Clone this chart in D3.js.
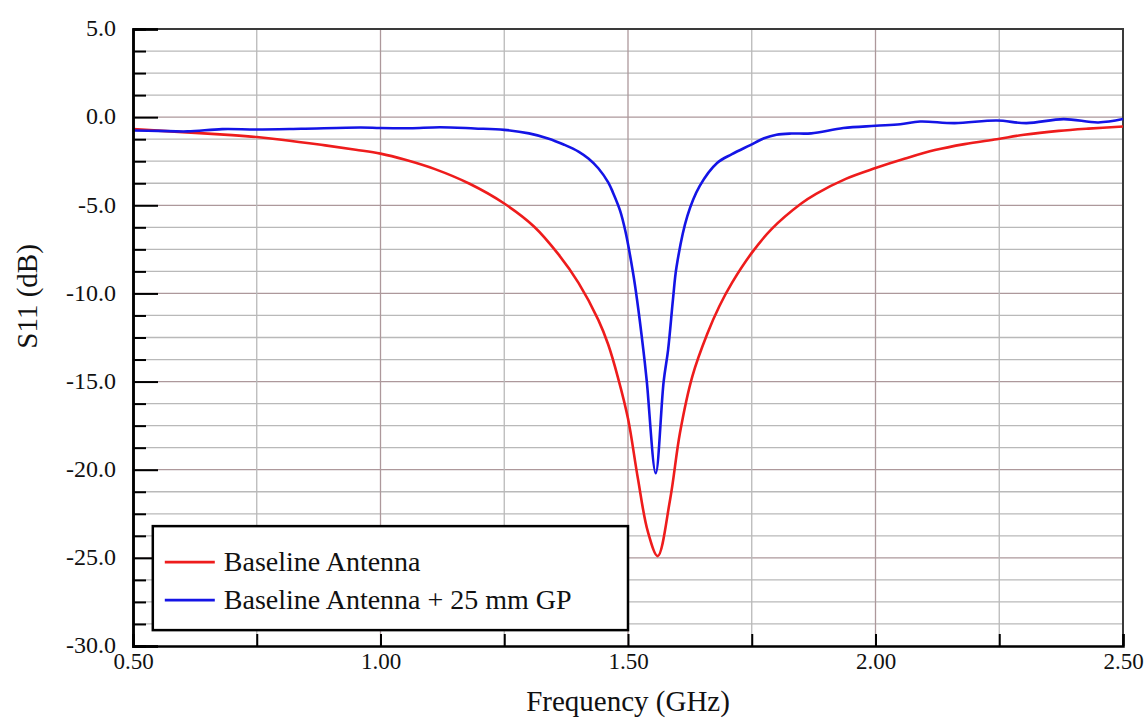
<!DOCTYPE html>
<html>
<head>
<meta charset="utf-8">
<script src="https://cdn.jsdelivr.net/npm/d3@7"></script>
<style>
  html, body { margin: 0; padding: 0; background: #fff; overflow: hidden; }
  svg { display: block; }
  svg text { font-family: "Liberation Serif", "Times New Roman", serif; fill: #111; }
</style>
</head>
<body>
<div id="container"></div>
<script>
// frequency (GHz) and S11 (dB)
const baselineFreq = [0.50, 0.60, 0.70, 0.75, 0.80, 0.88, 0.95, 1.00, 1.05, 1.11, 1.18, 1.25, 1.31, 1.36, 1.40, 1.44, 1.46, 1.48, 1.50, 1.52, 1.54, 1.56, 1.585, 1.605, 1.63, 1.66, 1.685, 1.71, 1.75, 1.79, 1.85, 1.88, 1.94, 2.00, 2.06, 2.12, 2.18, 2.245, 2.30, 2.37, 2.43, 2.50]
const baselineS11 = [-0.68, -0.85, -1.02, -1.13, -1.28, -1.57, -1.85, -2.07, -2.42, -2.95, -3.78, -4.9, -6.2, -7.8, -9.4, -11.5, -12.9, -14.8, -17.1, -20.5, -23.5, -24.9, -21.7, -17.9, -14.7, -12.3, -10.7, -9.4, -7.7, -6.35, -4.9, -4.35, -3.5, -2.89, -2.35, -1.87, -1.53, -1.25, -1.0, -0.78, -0.65, -0.53]

const gpFreq = [0.50, 0.55, 0.61, 0.68, 0.75, 0.84, 0.96, 1.00, 1.06, 1.12, 1.19, 1.25, 1.30, 1.34, 1.37, 1.40, 1.42, 1.44, 1.46, 1.47, 1.484, 1.495, 1.51, 1.518, 1.531, 1.538, 1.556, 1.572, 1.581, 1.591, 1.598, 1.62, 1.645, 1.68, 1.71, 1.746, 1.775, 1.80, 1.83, 1.87, 1.935, 2.00, 2.05, 2.09, 2.16, 2.245, 2.305, 2.38, 2.45, 2.50]
const gpS11 = [-0.76, -0.78, -0.81, -0.68, -0.70, -0.66, -0.59, -0.62, -0.63, -0.57, -0.64, -0.72, -0.92, -1.22, -1.55, -1.95, -2.35, -2.9, -3.7, -4.3, -5.3, -6.5, -8.8, -10.3, -13.2, -15.0, -20.2, -15.0, -13.2, -10.3, -8.5, -5.6, -3.9, -2.6, -2.1, -1.6, -1.2, -1.0, -0.93, -0.92, -0.62, -0.49, -0.40, -0.25, -0.34, -0.19, -0.34, -0.11, -0.30, -0.11]

const seriesNames = ["Baseline Antenna", "Baseline Antenna + 25 mm GP"]
const seriesColors = ["#ee1c1c", "#1414e6"]

const xMajorTicks = [0.5, 1.0, 1.5, 2.0, 2.5]
const xTickLabels = ["0.50", "1.00", "1.50", "2.00", "2.50"]
const xMinorTicks = [0.75, 1.25, 1.75, 2.25]
const yMajorTicks = [5, 0, -5, -10, -15, -20, -25, -30]
const yTickLabels = ["5.0", "0.0", "-5.0", "-10.0", "-15.0", "-20.0", "-25.0", "-30.0"]
const yMinorTicks = d3.range(5, -30, -1.25).filter(v => v % 5 !== 0)

const container = d3.select("#container")
const width = 1148, height = 721
const margin = {top: 29, right: 25, bottom: 75, left: 133}
const innerWidth = width - margin.left - margin.right
const innerHeight = height - margin.top - margin.bottom

const svg = container.append("svg")
                     .attr("width", width)
                     .attr("height", height)

const chart = svg.append("g")
                 .attr("transform", `translate(${margin.left}, ${margin.top})`)

// scales
const xScale = d3.scaleLinear().domain([0.5, 2.5]).range([0, innerWidth])
const yScale = d3.scaleLinear().domain([-30, 5]).range([innerHeight, 0])

// grid lines
chart.selectAll(".hgrid-minor")
     .data(yMinorTicks)
     .join("line")
     .attr("x1", 0).attr("x2", innerWidth)
     .attr("y1", d => yScale(d)).attr("y2", d => yScale(d))
     .attr("stroke", "#b9b9b9").attr("stroke-width", 1.3)
chart.selectAll(".hgrid-major")
     .data(yMajorTicks.slice(1, -1))
     .join("line")
     .attr("x1", 0).attr("x2", innerWidth)
     .attr("y1", d => yScale(d)).attr("y2", d => yScale(d))
     .attr("stroke", "#ad989b").attr("stroke-width", 1.3)
chart.selectAll(".vgrid-minor")
     .data(xMinorTicks)
     .join("line")
     .attr("x1", d => xScale(d)).attr("x2", d => xScale(d))
     .attr("y1", 0).attr("y2", innerHeight)
     .attr("stroke", "#b9b9b9").attr("stroke-width", 1.3)
chart.selectAll(".vgrid-major")
     .data(xMajorTicks.slice(1, -1))
     .join("line")
     .attr("x1", d => xScale(d)).attr("x2", d => xScale(d))
     .attr("y1", 0).attr("y2", innerHeight)
     .attr("stroke", "#ad989b").attr("stroke-width", 1.3)

// frame (top / right)
chart.append("path")
     .attr("d", `M0,0H${innerWidth}V${innerHeight}`)
     .attr("fill", "none").attr("stroke", "#3a3a3a").attr("stroke-width", 2)

// curves
const line = d3.line()
               .x(d => xScale(d[0]))
               .y(d => yScale(d[1]))
               .curve(d3.curveCatmullRom.alpha(0.5))
const series = [
    d3.zip(baselineFreq, baselineS11),
    d3.zip(gpFreq, gpS11)
]
chart.selectAll(".curve")
     .data(series)
     .join("path")
     .attr("class", "curve")
     .attr("d", line)
     .attr("fill", "none")
     .attr("stroke", (d, i) => seriesColors[i])
     .attr("stroke-width", 2.6)
     .attr("stroke-linejoin", "round")

// axes
const yAxisMajor = d3.axisLeft(yScale)
                     .tickValues(yMajorTicks)
                     .tickSize(-25)
                     .tickPadding(17)
                     .tickFormat((d, i) => yTickLabels[i])
const yAxisMinor = d3.axisLeft(yScale)
                     .tickValues(yMinorTicks)
                     .tickSize(-13)
                     .tickFormat("")
const xAxis = d3.axisBottom(xScale)
                .tickValues(xMajorTicks.concat(xMinorTicks))
                .tickSize(-12)
                .tickPadding(7)
                .tickFormat(d => {
                    const i = xMajorTicks.indexOf(d)
                    return i < 0 ? "" : xTickLabels[i]
                })

const gy = chart.append("g").call(yAxisMajor)
chart.append("g").call(yAxisMinor)
const gx = chart.append("g")
                .attr("transform", `translate(0, ${innerHeight})`)
                .call(xAxis)

// drop the empty labels of the unlabelled ticks
chart.selectAll(".tick text").filter(function() { return this.textContent === "" }).remove()

chart.selectAll(".domain").attr("stroke", "#000").attr("stroke-width", 2.5)
chart.selectAll(".tick line").attr("stroke", "#000").attr("stroke-width", 2)
gy.selectAll("text").attr("font-size", "24px").attr("font-family", "Liberation Serif").attr("fill", "#111").attr("dy", "0.28em")
gx.selectAll("text").attr("font-size", "23px").attr("font-family", "Liberation Serif").attr("fill", "#111")

// axis titles
svg.append("text")
   .attr("x", margin.left + innerWidth / 2)
   .attr("y", 711)
   .attr("text-anchor", "middle")
   .attr("font-size", "29px")
   .text("Frequency (GHz)")
svg.append("text")
   .attr("transform", `translate(37, ${margin.top + yScale(-10) + 3}) rotate(-90)`)
   .attr("text-anchor", "middle")
   .attr("font-size", "29px")
   .text("S11 (dB)")

// legend
const legend = chart.append("g")
                    .attr("transform", `translate(${xScale(0.54)}, ${yScale(-23.2)})`)
legend.append("rect")
      .attr("width", xScale(1.5) - xScale(0.54))
      .attr("height", 104)
      .attr("fill", "#fff")
      .attr("stroke", "#000")
      .attr("stroke-width", 2.5)
const items = legend.selectAll(".item")
                    .data(seriesNames)
                    .join("g")
                    .attr("transform", (d, i) => `translate(0, ${36 + i * 38})`)
items.append("line")
     .attr("x1", 12).attr("x2", 62)
     .attr("stroke", (d, i) => seriesColors[i])
     .attr("stroke-width", 2.6)
items.append("text")
     .attr("x", 71)
     .attr("dy", "0.33em")
     .attr("font-size", "28px")
     .text(d => d)
</script>
</body>
</html>
